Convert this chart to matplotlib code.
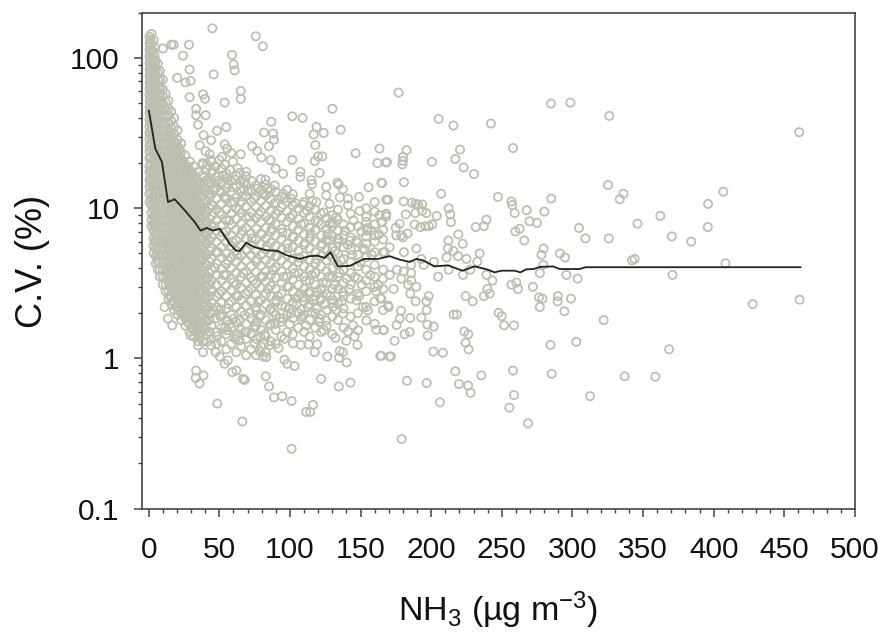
import numpy as np
import matplotlib
matplotlib.use('Agg')
import matplotlib.pyplot as plt
from matplotlib.ticker import MultipleLocator, LogLocator, NullFormatter, FixedLocator

plt.rcParams['font.family'] = ['Liberation Sans', 'DejaVu Sans']
plt.rcParams['mathtext.default'] = 'regular'

# dense part of the cloud, read column by column
column_x = [0.6, 2, 3.5, 5, 6.5, 8, 10, 12, 14, 16, 18, 20.5, 23, 26, 29, 32, 35,
            38, 41, 44.5, 48, 51.5, 55, 58.5, 62, 65.5, 69, 72.5, 76, 79.5, 83, 86.5, 90,
            94, 98, 102, 106, 110, 114, 118, 122, 126, 130, 134, 138, 143, 148, 154, 160, 166,
            15, 17, 19.3, 21.7, 24.5, 27.5, 30.5, 33.5, 36.5, 39.5, 43, 1.2, 4.2]
column_cv = [
    [11, 12.5, 14, 15.5, 17.5, 19, 21.5, 24, 26, 29, 32, 35, 39, 43, 47, 52, 57, 63, 69, 76, 84, 93, 103, 114, 126, 139],
    [7.6, 8.4, 9.3, 10.5, 11.5, 12.8, 14.4, 16, 17.8, 19.6, 22, 24.5, 27, 30, 33.5, 37, 41, 45, 50, 55, 61, 67, 74, 82, 91, 100, 112, 124, 145],
    [5, 5.6, 6.3, 7.1, 7.9, 8.8, 9.8, 11, 12.2, 13.6, 15, 16.8, 18.6, 20.8, 23, 25.6, 28.5, 31.5, 35, 39, 43.5, 48, 53, 59, 65, 72, 80, 89, 98, 110, 132],
    [4.3, 4.8, 5.4, 6, 6.7, 7.5, 8.3, 9.3, 10.3, 11.5, 12.8, 14.2, 15.8, 17.6, 19.5, 21.8, 24.2, 26.8, 29.8, 33, 37, 41, 45.5, 50.5, 56, 62, 69, 77, 86, 96],
    [3.9, 4.4, 4.9, 5.5, 6.1, 6.8, 7.6, 8.5, 9.4, 10.5, 11.7, 13, 14.5, 16.1, 18, 20, 22.2, 24.7, 27.5, 30.5, 34, 38, 42, 46.5, 52, 58, 64, 71, 80, 92],
    [3.5, 3.9, 4.4, 4.9, 5.4, 6.1, 6.7, 7.5, 8.4, 9.3, 10.4, 11.6, 12.9, 14.3, 16, 17.8, 19.8, 22, 24.4, 27.2, 30.2, 33.6, 37.4, 41.5, 46, 51, 57, 64, 72, 82],
    [3.1, 3.5, 3.9, 4.3, 4.8, 5.3, 5.9, 6.6, 7.4, 8.2, 9.1, 10.2, 11.3, 12.6, 14, 15.6, 17.3, 19.2, 21.4, 23.8, 26.5, 29.4, 32.7, 36.4, 40.5, 45, 50, 56, 62, 72],
    [2.8, 3.1, 3.5, 3.9, 4.4, 4.9, 5.4, 6, 6.7, 7.5, 8.3, 9.2, 10.3, 11.4, 12.7, 14.1, 15.7, 17.5, 19.4, 21.6, 24, 26.7, 29.7, 33, 36.7, 40.8, 45.3, 51, 58],
    [2.5, 2.8, 3.2, 3.6, 4, 4.4, 4.9, 5.5, 6.1, 6.8, 7.6, 8.4, 9.4, 10.4, 11.6, 12.9, 14.3, 15.9, 17.7, 19.7, 21.9, 24.3, 27, 30, 33.4, 37.2, 41.4, 46, 52],
    [2.3, 2.6, 2.9, 3.2, 3.6, 4, 4.5, 5, 5.6, 6.2, 6.9, 7.7, 8.6, 9.5, 10.6, 11.8, 13.1, 14.6, 16.2, 18, 20, 22.3, 24.8, 27.6, 30.7, 34, 38, 44],
    [2.1, 2.4, 2.7, 3, 3.3, 3.7, 4.1, 4.6, 5.1, 5.7, 6.3, 7, 7.8, 8.7, 9.7, 10.8, 12, 13.3, 14.8, 16.5, 18.3, 20.4, 22.7, 25.2, 28, 31.2, 35, 40],
    [1.95, 2.2, 2.45, 2.7, 3, 3.4, 3.8, 4.2, 4.7, 5.2, 5.8, 6.4, 7.2, 8, 8.9, 9.9, 11, 12.2, 13.6, 15.1, 16.8, 18.7, 20.8, 23.1, 25.7, 28.6, 33],
    [1.8, 2, 2.25, 2.5, 2.8, 3.1, 3.5, 3.9, 4.3, 4.8, 5.3, 5.9, 6.6, 7.3, 8.2, 9.1, 10.1, 11.2, 12.5, 13.9, 15.4, 17.1, 19, 21.2, 23.6, 27],
    [1.65, 1.85, 2.05, 2.3, 2.55, 2.85, 3.2, 3.5, 3.9, 4.4, 4.9, 5.4, 6, 6.7, 7.5, 8.3, 9.3, 10.3, 11.5, 12.8, 14.2, 15.8, 17.5, 19.5, 22.5],
    [1.5, 1.7, 1.9, 2.1, 2.35, 2.6, 2.9, 3.25, 3.6, 4, 4.5, 5, 5.5, 6.2, 6.9, 7.6, 8.5, 9.5, 10.5, 11.7, 13, 14.5, 16.1, 18, 20.5],
    [1.4, 1.55, 1.75, 1.95, 2.15, 2.4, 2.7, 3, 3.3, 3.7, 4.1, 4.6, 5.1, 5.7, 6.3, 7, 7.8, 8.7, 9.7, 10.8, 12, 13.3, 14.8, 16.5, 19],
    [1.3, 1.45, 1.6, 1.8, 2, 2.2, 2.5, 2.75, 3.1, 3.4, 3.8, 4.2, 4.7, 5.2, 5.8, 6.5, 7.2, 8, 8.9, 9.9, 11, 12.3, 13.7, 15.2, 17.5],
    [1.3, 1.6, 1.9, 2.3, 2.7, 3.2, 3.8, 4.5, 5.3, 6.2, 7.3, 8.6, 10.1, 12, 14.1, 16.6, 19.5],
    [1.45, 1.75, 2.1, 2.5, 3, 3.5, 4.2, 4.9, 5.8, 6.8, 8, 9.5, 11.1, 13, 15.4, 18.2],
    [1.35, 1.65, 2, 2.35, 2.8, 3.3, 3.9, 4.6, 5.4, 6.4, 7.6, 8.9, 10.5, 12.4, 14.6, 17.3, 20.5],
    [1.25, 1.5, 1.85, 2.2, 2.6, 3.1, 3.6, 4.3, 5.1, 6, 7.1, 8.3, 9.8, 11.6, 13.7, 16.2],
    [1.3, 1.6, 1.95, 2.35, 2.8, 3.3, 3.95, 4.7, 5.5, 6.5, 7.7, 9.1, 10.7, 12.7, 15, 18.4],
    [1.15, 1.45, 1.8, 2.15, 2.6, 3.05, 3.6, 4.25, 5, 5.95, 7, 8.3, 9.8, 11.5, 13.6, 15.8],
    [1.25, 1.6, 1.95, 2.4, 2.85, 3.4, 4, 4.7, 5.6, 6.6, 7.8, 9.2, 10.9, 12.9, 15.2],
    [1.1, 1.4, 1.75, 2.2, 2.6, 3.1, 3.7, 4.4, 5.2, 6.1, 7.2, 8.5, 10, 11.8, 14, 16.4],
    [1.2, 1.55, 2.05, 2.45, 2.95, 3.5, 4.1, 4.85, 5.7, 6.7, 7.9, 9.3, 11, 13, 15.3],
    [1.05, 1.35, 1.7, 2.25, 2.7, 3.2, 3.8, 4.5, 5.3, 6.3, 7.4, 8.7, 10.3, 12.1, 14.3, 16.3],
    [1.15, 1.45, 1.85, 2.4, 2.9, 3.45, 4.1, 4.85, 5.7, 6.8, 8, 9.4, 11.1, 13.1],
    [1.05, 1.35, 1.65, 2.2, 2.65, 3.15, 3.75, 4.4, 5.2, 6.2, 7.3, 8.6, 10.2, 12, 14.2],
    [1.2, 1.55, 1.95, 2.45, 2.95, 3.5, 4.15, 4.9, 5.8, 6.8, 8.1, 9.5, 11.2, 13.2, 15.7],
    [1.1, 1.4, 1.8, 2.3, 2.7, 3.25, 3.8, 4.5, 5.3, 6.3, 7.4, 8.8, 10.4, 12.2, 14.4],
    [1.3, 1.7, 2.15, 2.6, 3.05, 3.6, 4.3, 5, 5.9, 7, 8.2, 9.7, 11.4, 13.4],
    [1.25, 1.55, 1.95, 2.45, 2.9, 3.45, 4.05, 4.8, 5.6, 6.6, 7.8, 9.2, 10.9, 12.9],
    [1.4, 1.75, 2.25, 2.7, 3.2, 3.8, 4.5, 5.3, 6.2, 7.3, 8.7, 10.2, 12],
    [1.5, 1.95, 2.5, 3, 3.5, 4.2, 4.9, 5.8, 6.8, 8.1, 9.5, 11.1, 13.3],
    [1.45, 1.85, 2.35, 2.8, 3.35, 3.95, 4.6, 5.5, 6.5, 7.6, 9, 10.5, 12.4],
    [1.6, 2, 2.6, 3.1, 3.7, 4.4, 5.2, 6.1, 7.2, 8.5, 10],
    [1.5, 1.95, 2.4, 2.9, 3.5, 4.1, 4.8, 5.7, 6.7, 7.9, 9.3, 11],
    [1.4, 1.8, 2.3, 2.8, 3.3, 3.9, 4.55, 5.4, 6.3, 7.4, 8.8, 10.3, 12.5],
    [1.6, 2, 2.6, 3.1, 3.7, 4.3, 5.1, 6, 7.1, 8.3, 9.8],
    [1.5, 1.95, 2.5, 2.95, 3.5, 4.1, 4.8, 5.6, 6.6, 7.8, 9.2],
    [1.65, 2.1, 2.7, 3.2, 3.8, 4.5, 5.3, 6.2, 7.3, 8.6],
    [1.45, 1.9, 2.35, 2.9, 3.45, 4, 4.7, 5.5, 6.5, 7.6, 9],
    [1.8, 2.3, 2.9, 3.5, 4.2, 5, 5.9, 7.1, 8.4, 9.8],
    [1.6, 2.15, 2.6, 3.2, 3.9, 4.6, 5.5, 6.6, 7.8],
    [1.9, 2.5, 3.1, 3.7, 4.4, 5.3, 6.4, 7.5, 9.2],
    [2, 2.7, 3.4, 4.1, 4.9, 5.9, 7.6],
    [2.2, 2.8, 3.3, 3.9, 4.7, 5.8, 6.5, 8.1, 10],
    [2.4, 3.5, 4.2, 6, 6.6, 7.8, 9.5, 11],
    [2.1, 2.9, 3.4, 3.9, 6.2, 7.2],
    [2.6, 3.05, 3.4, 3.8, 4.2, 4.7, 5.3, 5.9, 6.5, 7.3, 8, 9, 10, 11.1, 12.3, 13.7, 15.2, 17, 18.8, 21, 23.2, 26, 29, 32],
    [2.4, 2.75, 3.1, 3.4, 3.8, 4.3, 4.8, 5.3, 5.9, 6.6, 7.3, 8.1, 9, 10, 11.2, 12.4, 13.8, 15.4, 17.1, 19, 21.2, 23.5, 26],
    [2.2, 2.55, 2.85, 3.2, 3.55, 3.9, 4.4, 4.9, 5.4, 6, 6.7, 7.5, 8.3, 9.3, 10.3, 11.5, 12.8, 14.2, 15.8, 17.6, 19.5, 21.7, 24, 27],
    [2.1, 2.35, 2.6, 2.95, 3.25, 3.6, 4, 4.5, 5, 5.5, 6.1, 6.8, 7.6, 8.5, 9.4, 10.5, 11.6, 12.9, 14.4, 16, 17.9, 20, 22, 25],
    [1.95, 2.15, 2.4, 2.65, 2.95, 3.3, 3.7, 4.1, 4.6, 5.1, 5.6, 6.3, 7, 7.8, 8.7, 9.7, 10.8, 12, 13.2, 14.7, 16.4, 18.2, 20.5],
    [1.75, 1.95, 2.2, 2.45, 2.7, 3, 3.35, 3.7, 4.2, 4.65, 5.2, 5.7, 6.4, 7.1, 7.9, 8.9, 9.9, 11, 12.2, 13.6, 15, 16.8, 19],
    [1.6, 1.8, 2, 2.25, 2.5, 2.8, 3.1, 3.45, 3.85, 4.3, 4.75, 5.3, 5.9, 6.6, 7.3, 8.1, 9.1, 10.1, 11.2, 12.4, 13.9, 15.4, 17.2],
    [1.5, 1.7, 1.85, 2.1, 2.3, 2.6, 2.9, 3.2, 3.6, 4, 4.4, 4.9, 5.5, 6.1, 6.8, 7.5, 8.4, 9.3, 10.4, 11.5, 12.8, 14.2, 16],
    [1.4, 1.55, 1.75, 1.9, 2.15, 2.4, 2.65, 3, 3.3, 3.65, 4.05, 4.5, 5, 5.6, 6.3, 7, 7.8, 8.6, 9.6, 10.6, 11.8, 13.1, 14.6],
    [1.55, 1.85, 2.2, 2.6, 3.1, 3.65, 4.3, 5.1, 6, 7, 8.3, 9.8, 11.5, 13.6],
    [1.5, 1.8, 2.2, 2.6, 3.1, 3.7, 4.4, 5.2, 6.1, 7.2, 8.5, 10, 11.8],
    [15, 18, 22, 27, 31, 37, 45, 50, 60, 66, 72, 80, 88, 97, 108, 120, 133],
    [6, 7.5, 9, 10.8, 13, 15.5, 18, 21, 25, 30, 36, 44, 52, 60, 68, 76, 84, 94, 104, 118],
]

# more of the middle of the cloud
middle_x = [38.7, 39.4, 40.1, 40.6, 41.2, 41.9, 42.3, 43.1, 43.6, 44.1, 45.2, 45.7, 46.4, 47.1, 47.6, 48.3, 49, 49.8,
            50.3, 50.7, 52.4, 53.1, 53.6, 54.2, 56, 56.7, 57.2, 57.7, 59.3, 59.9, 60.8, 61.3, 62.7, 63.4, 64.1, 64.6,
            66.2, 66.9, 67.5, 68.2, 69.7, 70.4, 71.1, 71.6, 73.1, 73.8, 74.5, 75.2, 76.8, 77.5, 78.1, 78.7, 80.2, 80.9,
            81.6, 82.2, 83.7, 84.4, 85.1, 85.8, 87.2, 87.9, 88.6, 89.3, 90.7, 91.4, 92.1, 92.8, 94.7, 95.4, 96.1, 96.8,
            98.6, 99.3, 100, 100.7, 102.6, 103.3, 104, 104.8, 106.6, 107.3, 108, 108.7, 110.6, 111.3, 112, 112.7, 114.6,
            115.3, 116, 116.7, 118.6, 119.3, 120, 120.7, 122.6, 123.3, 124, 124.7, 126.6, 127.3, 128, 128.7, 130.6,
            131.3, 132, 132.7, 134.6, 135.3, 136, 136.7, 139, 140, 141, 142, 144, 145, 146, 147, 149, 150, 151, 153,
            155, 157, 158, 161, 163, 38.2, 39.1, 40.3, 41.4, 42.6, 43.8, 45, 46.2, 47.3, 48.7, 50, 51, 52.6, 54, 56.3,
            57.5, 59.7, 61.5, 63, 66, 68, 70, 73, 77, 80.5, 84]
middle_cv = [4.7, 2.5, 8.9, 1.8, 6.5, 3.4, 12.5, 1.5, 5.5, 2.9, 10.4, 2.1, 7.6, 4, 14.6, 1.4, 5.1, 2.7,
             9.4, 1.9, 6.9, 3.6, 12, 1.6, 4.5, 2.3, 8.3, 1.7, 6, 3.2, 11, 1.35, 4.9, 2.6, 9.8, 1.8,
             7.1, 3.7, 13.4, 1.5, 5.3, 2.8, 8.8, 2, 6.3, 3.3, 11.6, 1.6, 4.6, 2.4, 9.1, 1.9, 6.7, 3.5,
             12.6, 1.45, 5.6, 2.9, 8.4, 2.1, 7.3, 3.9, 10.7, 1.7, 4.8, 2.6, 9.6, 1.85, 6.9, 3.5, 11.7, 2.2,
             5.4, 3, 8.7, 2, 6.4, 3.7, 10.8, 2.3, 4.7, 2.7, 7.8, 1.9, 5.9, 3.3, 9.6, 2.2, 6.8,
             3.6, 11.2, 2.45, 4.6, 2.8, 8.1, 1.75, 5.8, 3.2, 9.4, 2.3, 6.7, 3.5, 4.9, 2.6, 8,
             3.1, 5.2, 2.1, 6.2, 3.7, 4.5, 2.4, 7.1, 3.4, 5.7, 2.9, 4.9, 8.3, 3.5, 6.1, 2.6, 4.4, 3.1, 5.3,
             7.4, 3.6, 4.9, 2.8, 6.7, 20, 16, 24, 19.5, 15, 21, 17.8, 13.5, 19, 15.2, 21, 13, 16.5, 19.5, 14.5,
             18, 13.8, 15.5, 18.5, 12, 15, 13, 15.2, 13.5, 12.5, 13.5]

# points above the dense part, x < 170
upper_x = [45.1, 75.8, 80.8, 59, 60.2, 60.9, 46, 65.2, 65.2, 53.8, 28.6, 16.1, 17.7, 24.3, 10.1, 29, 29.8, 20.2, 26.1,
           38.5, 39.9, 29, 130.1, 101.7, 109, 86.8, 81.7, 88.1, 88.7, 85.2, 118.9, 116.8, 123.9, 135.9, 118, 163.4,
           146.5, 161.9, 167.8, 164.8, 155.7, 148.9, 168.2, 133.6, 134.6, 137.5, 135.3, 141.1, 141.1, 125.7, 121,
           115.2, 115.6, 107.4, 107.4, 101.7, 117.6, 119.9, 123, 86.3, 79.8, 76.7, 73.3, 65.2, 59.7, 55, 48.4, 38.9,
           44.3, 40.4, 34.9, 33.6, 33.6, 53.8, 55.5, 36.1, 43.2, 51.9, 58.5, 89.9, 95.2, 69.1, 64.4, 55, 82.6, 89.2,
           95.2, 100.9, 109.3, 118.7, 125.7, 128.1, 132.9, 128.1, 149.4, 154.1, 163.4, 168.2, 164.8, 157.7, 150.5,
           154.6, 160, 167.1, 151.8, 142.3, 134, 128.1]
upper_cv = [158, 140, 120, 105, 91, 83, 78, 60.5, 53.6, 50.6, 123, 123, 123, 104, 116, 84, 70.6, 74, 69,
            57.5, 53.6, 55, 46, 41, 40, 37.7, 32, 31.5, 28.6, 25.9, 34.8, 31, 31.8, 33.4, 26.4, 25,
            23.3, 20, 20.2, 14.8, 13.8, 11.9, 11.4, 14.8, 14.4, 13.4, 11.8, 11.6, 10.5, 13.9, 17.2,
            15.4, 14.5, 17.5, 16.2, 21, 20.6, 22.2, 22.2, 20.9, 21.8, 24.1, 25.9, 22.9, 20.4, 34.8, 32.8, 30.7,
            28.4, 41.7, 36, 46, 41.7, 26.7, 25, 26.3, 22.9, 22, 23.4, 18.4, 17, 17.5, 17.2, 17, 15.5, 14.2,
            12.5, 11.6, 10.6, 11, 12.2, 10.7, 8.75, 7.9, 9.6, 8.75, 9, 9.2, 8.1, 7.1, 7,
            7.1, 5.1, 5.1, 5.4, 6.1, 6.3, 6.1]

# points below the dense part, x < 170
lower_x = [11.3, 13.7, 16.7, 26.1, 29.5, 31.3, 29.7, 35.6, 34.9, 41.3, 38.5, 44.2, 47.4, 50.3, 56.1, 53.8, 62.1, 59.2,
           66.8, 68, 33.6, 38.9, 33.3, 36.1, 48.6, 66.3, 82.9, 85.2, 88.7, 94.6, 101.2, 116.3, 111.5, 114.4, 101.2,
           122.1, 134.6, 142.8, 103.3, 98.1, 96.1, 83.3, 80.9, 79, 92, 85.6, 81.7, 75, 79, 96.1, 102.2, 107.7, 113.2,
           119.2, 117.6, 126.5, 135.3, 137.5, 134.8, 140.2, 147.8, 140, 132.2, 145.8, 148.2, 141.1, 124, 161.2, 166.3,
           164, 170.6, 154.1, 160, 155.2, 151.8, 147.1, 164, 169.5, 160, 162.5, 144.7, 137.5, 130.5, 125.7, 121.1,
           115.2, 118.7, 108, 99.8, 95.2, 99.8, 108, 111.5, 90.4, 104.6, 109.3, 113.2, 121.5, 122.3, 130.5, 137.5,
           88.1, 85.6, 76.2, 68, 76.2, 69.2, 56.1, 55.5, 60.2, 62.1, 64.4, 43.3, 50.8, 40.9]
lower_cv = [2.2, 1.84, 1.66, 1.9, 1.9, 1.69, 1.42, 1.48, 1.22, 1.29, 1.1, 1.22, 1.1, 1.03, 0.97, 0.92, 0.83, 0.81,
            0.73, 0.72, 0.83, 0.77, 0.74, 0.68, 0.5, 0.38, 0.76, 0.65, 0.55, 0.56, 0.52, 0.49, 0.44, 0.44, 0.25,
            0.73, 0.65, 0.69, 0.89, 0.92, 0.98, 1.02, 1.03, 1.11, 1.17, 1.22, 1.25, 1.25, 1.4, 1.35, 1.26, 1.23, 1.24,
            1.24, 1.1, 1.03, 1.12, 1.1, 1.01, 0.94, 1.23, 1.31, 1.37, 1.4, 1.54, 1.51, 1.54, 1.55, 1.55,
            1.04, 1.03, 1.79, 1.7, 2.09, 2.2, 2.44, 2.52, 2.25, 3, 3.07, 1.66, 1.99, 2.2, 1.79, 1.84,
            2.04, 2.14, 2.12, 2.14, 1.84, 1.69, 1.84, 1.66, 2.38, 2.5, 2.56, 2.73, 2.44, 2.84, 2.44, 2.77,
            2.04, 1.66, 2.09, 1.94, 1.75, 1.5, 1.77, 1.54, 1.84, 1.46, 1.32, 2.04, 2.12, 2.25]

# the sparse right hand side
right_x = [176.9, 284.8, 298.5, 326.1, 460.5, 205.3, 215.7, 242.3, 257.9, 220.4, 182.6, 180, 180, 179.6, 168.7, 200.5,
           217.1, 223, 230.3, 180.7, 165.3, 325.2, 336.1, 333.5, 406.8, 396, 207, 247.3, 256.8, 257.4, 259.1, 267.6,
           280.1, 285, 362.2, 346, 395.8, 370.3, 384.1, 325.7, 304.6, 309.2, 269.7, 274.9, 262.6, 259.6, 265.9, 239.1,
           237.3, 231.5, 219.2, 214, 213.5, 212.4, 203.9, 200.8, 198.4, 195.8, 192.3, 188.3, 182, 188.8, 196.6, 193.7,
           193.7, 190.6, 189, 186.4, 180.5, 169.4, 168.2, 168.2, 165.3, 177.7, 174.9, 183.3, 178.8, 180, 175.3, 212.2,
           222.3, 211.9, 215.7, 210.9, 219, 224.9, 234.3, 232.6, 279.6, 278, 291.2, 294.7, 279.4, 342.2, 344, 408.3,
           170.6, 180.7, 189.5, 165.9, 193, 202, 194.7, 212.4, 227.7, 222.5, 239.1, 243.3, 276.9, 295.7, 303.7, 370.8,
           204.9, 170.6, 175.8, 180.5, 185.9, 185.9, 178.8, 185.9, 183.6, 189.5, 173.4, 185.2, 164.7, 189, 169.9, 198.2,
           196.6, 256.8, 260.3, 261.5, 272, 239.8, 241.4, 237.3, 224.4, 229.4, 276.3, 278.7, 276.9, 289.7, 289.5, 299,
           294.3, 427.6, 460.8, 322.1, 196.8, 178.6, 185.2, 177.7, 193, 175.5, 197.3, 201.8, 215.9, 218.2, 247.7, 249.9,
           251.6, 258.6, 166.3, 184.8, 181.2, 197.5, 223.5, 226.3, 224.4, 226.5, 174.1, 201.5, 208.3, 171.5, 164.7,
           284.5, 302.7, 368.4, 257.9, 217.1, 235.5, 285.3, 336.9, 358.7, 182.8, 196.8, 219.7, 226.1, 227.9, 258.6,
           312.4, 206.2, 255.3, 268.5, 179.1]
right_cv = [59, 49.9, 50.6, 41.3, 32.1, 39.4, 35.6, 36.7, 25.2, 24.6, 24.4, 22, 20.7, 19.6, 20.3, 20.4,
            21.3, 18.7, 16.9, 14.9, 14.7, 14.3, 12.5, 11.5, 12.9, 10.7, 12.5, 11.9, 11.1, 10.5, 9.3, 9.7,
            9.5, 11.6, 8.9, 7.9, 7.5, 6.5, 6, 6.3, 7.4, 6.3, 8.2, 8, 7.3, 7, 6.1, 8.4,
            7.6, 7.5, 6.7, 8.1, 9.1, 10, 8.9, 7.8, 7.6, 7.6, 7.5, 7.8, 9.1, 9.3, 9.3, 9.6,
            10.6, 10.6, 10.7, 10.9, 11.1, 11.4, 9.1, 8.8, 8.1, 7.9, 7.4, 6.8, 6.6, 6.4, 6.6, 6.1,
            5.8, 5.4, 5.2, 4.7, 4.8, 4.6, 5, 4.4, 5.4, 4.9, 5, 4.7, 4.2, 4.5, 4.6, 4.3,
            5.5, 5.1, 5.4, 5.1, 4.6, 4.4, 4.2, 3.9, 3.9, 3.6, 3.6, 3.3, 3.7, 3.6, 3.4, 3.6,
            3.5, 3.6, 3.9, 3.8, 4.2, 3.7, 3.4, 3.3, 3.1, 3, 2.9, 2.7, 2.5, 2.4, 2.2, 2.6,
            2.4, 3.1, 3.2, 2.9, 3, 2.9, 2.7, 2.6, 2.6, 2.4, 2.55, 2.5, 2.2, 2.6, 2.4, 2.5,
            2.06, 2.3, 2.46, 1.8, 2.1, 2.08, 1.86, 1.84, 1.87, 1.67, 1.68, 1.63, 1.96, 1.96, 2.01, 1.91,
            1.66, 1.66, 1.54, 1.5, 1.45, 1.42, 1.51, 1.45, 1.27, 1.15, 1.31, 1.11, 1.09, 1.03, 1.04,
            1.23, 1.29, 1.15, 0.83, 0.82, 0.77, 0.79, 0.76, 0.755, 0.71, 0.685, 0.675, 0.66, 0.59, 0.57,
            0.56, 0.51, 0.47, 0.37, 0.29]

# running mean line
line_x = [0.2, 4.7, 9.4, 13.7, 18.4, 25.5, 32.6, 36.8, 41.3, 45.6, 50.3, 57.4, 61.6, 64.4, 69.1, 75, 83.3, 91.5, 97.5,
          106.9, 114, 119.9, 124.6, 128.6, 134, 142.3, 149.4, 152.8, 162.4, 170.6, 177.7, 184.8, 189.5, 194.2,
          202.4, 211.9, 222.1, 230.7, 240.2, 244.9, 249.6, 259.1, 263.1, 267.3, 272.5, 276.9, 286.3, 291, 305.1,
          309.3, 461.4]
line_cv = [44.6, 25, 20.4, 11, 11.5, 9.7, 8.1, 7.1, 7.4, 7.1, 7.3, 5.8, 5.25, 5.2, 5.9, 5.5, 5.25, 5.2, 4.87,
           4.6, 4.8, 4.83, 4.67, 5.1, 4.1, 4.13, 4.45, 4.6, 4.6, 4.8, 4.55, 4.39, 4.6, 4.5,
           4.1, 4.17, 3.84, 4.1, 3.9, 3.74, 3.84, 3.84, 3.74, 3.92, 3.94, 4.07, 4.1, 3.94, 3.94,
           4.05, 4.05]

x_ticks = [0, 50, 100, 150, 200, 250, 300, 350, 400, 450, 500]
y_ticks = [0.1, 1, 10, 100]
y_labels = ['0.1', '1', '10', '100']

lens = [len(c) for c in column_cv]
all_x = np.concatenate([np.repeat(column_x, lens), middle_x, upper_x, lower_x, right_x])
all_cv = np.concatenate([np.concatenate(column_cv), middle_cv, upper_cv, lower_cv, right_cv])

fig = plt.figure(figsize=(8.85, 6.33), dpi=100)
ax = fig.add_axes([142 / 885, 1 - 508.5 / 633, 713 / 885, 495.5 / 633])

ax.scatter(all_x, all_cv, s=35, facecolors='none', edgecolors='#bdbeaf', linewidths=1.25, clip_on=False)
ax.plot(line_x, line_cv, color='#222222', lw=1.3)

ax.set_yscale('log')
ax.set_xlim(-4.7, 500)
ax.set_ylim(0.1, 200)

ax.xaxis.set_major_locator(FixedLocator(x_ticks))
ax.xaxis.set_minor_locator(MultipleLocator(10))
ax.yaxis.set_major_locator(FixedLocator(y_ticks))
ax.set_yticklabels(y_labels)
ax.yaxis.set_minor_locator(LogLocator(base=10, subs=np.arange(2, 10), numticks=12))
ax.yaxis.set_minor_formatter(NullFormatter())

ax.tick_params(axis='both', which='major', length=5.5, width=1.1, color='#444444', labelsize=21.5, labelcolor='#111111')
ax.tick_params(axis='both', which='minor', length=3.2, width=1.0, color='#444444')
ax.tick_params(axis='x', which='major', pad=14)
ax.tick_params(axis='y', which='major', pad=10.5)
for side in ax.spines.values():
    side.set_linewidth(1.2)
    side.set_color('#444444')

fig.text(32 / 885, 1 - 261 / 633, 'C.V. (%)', rotation=90, fontsize=26, ha='center', va='center', color='#111111')
fig.text(498 / 885, 1 - 610 / 633, r'NH$_3$ (µg m$^{-3}$)', fontsize=24.5, ha='center', va='center', color='#111111')

fig.savefig('out.png', dpi=100)
